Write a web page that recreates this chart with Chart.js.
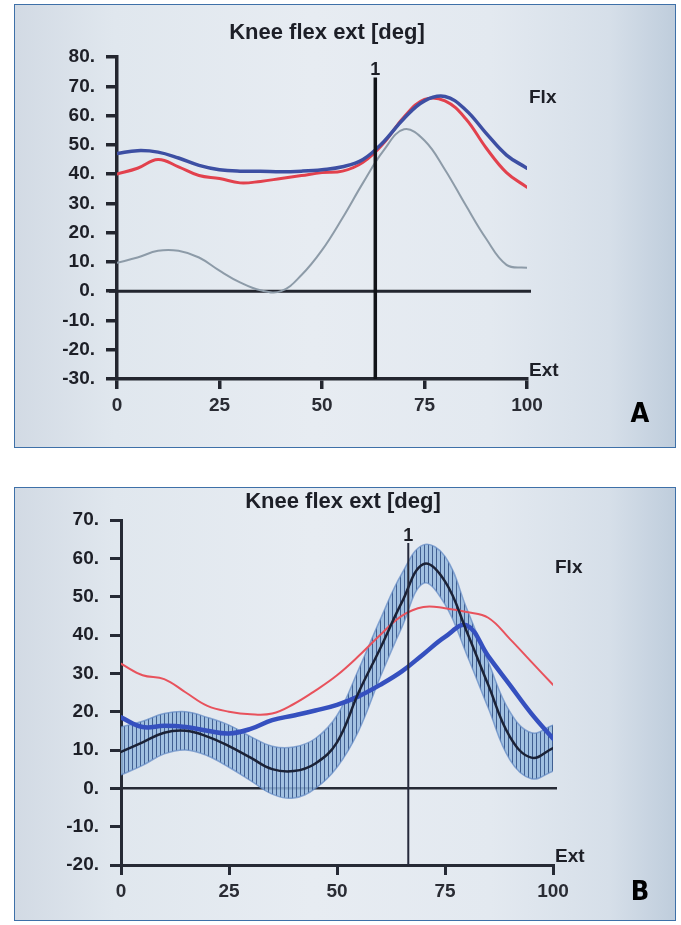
<!DOCTYPE html>
<html><head><meta charset="utf-8">
<script src="https://cdn.jsdelivr.net/npm/chart.js@4.4.1/dist/chart.umd.min.js"></script>
<style>
html,body{margin:0;padding:0;background:#fff;width:681px;height:925px;overflow:hidden;position:relative}
.panel{position:absolute;border:1.5px solid #3e70a8;box-sizing:border-box;
 background:linear-gradient(90deg,#d2dae4 0%,#e0e7ee 15%,#e7ecf2 45%,#e3e9f0 72%,#d6dfe9 90%,#bfcddc 100%)}
#pa{left:14px;top:4px;width:662px;height:444px}
#pb{left:14px;top:487px;width:662px;height:434px}
canvas{position:absolute;left:0}
#ca{top:0}
#cb{top:487px}
</style></head>
<body>
<div class="panel" id="pa"></div>
<div class="panel" id="pb"></div>
<canvas id="ca" width="681" height="447"></canvas>
<canvas id="cb" width="681" height="438"></canvas>
<script>
// ---------- data ----------
const pct = [0,5,10,15,20,25,30,35,40,45,50,55,60,65,70,75,80,85,90,95,100];
const xTicks = [0,25,50,75,100];

// Panel A
const yTicksA = [-30,-20,-10,0,10,20,30,40,50,60,70,80];
const kneeA_blue = [47,48,47.5,45.5,43,41.5,41,41,40.8,41,41.5,42.5,45,51,59,65,66.5,62,54,46.5,42];
const kneeA_red  = [40,42,45,42.5,39.5,38.5,37,37.5,38.5,39.5,40.5,41,44,50.5,59.5,65.5,65,59,49,40.5,35.5];
const kneeA_gray = [9.7,11.5,13.8,13.8,11.5,7,3,0.3,0,5.5,14,25,37,48,55.3,51.5,41.5,29.5,18,9,8];
const markerA = 63;

// Panel B
const yTicksB = [-20,-10,0,10,20,30,40,50,60,70];
const kneeB_red   = [32.5,29.5,28.5,25,21.5,20,19.3,19.5,22,25.5,29.5,34.5,40,45,47.3,47,46,44.5,39,33,27];
const kneeB_blue  = [18.5,16,16.3,16,15,14.3,15.5,17.8,19,20.3,21.8,24,27,30.5,35,39.5,42.5,34.5,27,19.5,13];
const kneeB_mean  = [9.5,12,14.5,15,13.5,11,8,5,4.5,6.5,12,25,36.5,48.5,58.5,54,41,27,13.5,8,10.5];
const kneeB_upper = [16,17.5,19.5,20,18.5,16.5,13.5,11,10.8,13,19,31,44,56,63.5,60.5,47,33,20,14.5,16.5];
const kneeB_lower = [3.5,6,9,10,8.5,5.5,2,-1.5,-2.5,0,5.5,15,29,42,53.5,48,35,21,7.5,2.5,4.5];
const markerB = 66.5;

// ---------- helpers ----------
Chart.defaults.font.family = "'Liberation Sans', Arial, sans-serif";
const pts = (ys) => pct.map((x,i)=>({x, y: ys[i]}));

function makeChart(id, o){
  const axisCol = o.axisCol;
  const overlay = {
    id:'overlay',
    beforeDatasetsDraw(chart){
      const {ctx, scales:{x,y}} = chart;
      ctx.save();
      ctx.strokeStyle = axisCol; ctx.lineWidth = o.zeroW;
      ctx.beginPath();
      ctx.moveTo(x.getPixelForValue(0)-8, y.getPixelForValue(0));
      ctx.lineTo(x.getPixelForValue(100)+4, y.getPixelForValue(0));
      ctx.stroke();
      ctx.restore();
    },
    afterDatasetsDraw(chart){
      const {ctx, scales:{x,y}} = chart;
      const mx = x.getPixelForValue(o.marker);
      ctx.save();
      ctx.strokeStyle = o.markerCol; ctx.lineWidth = o.markerW;
      ctx.beginPath();
      ctx.moveTo(mx, y.getPixelForValue(o.markerTop));
      ctx.lineTo(mx, y.getPixelForValue(y.min));
      ctx.stroke();
      ctx.restore();
    },
    afterDraw(chart){
      const {ctx, scales:{x,y}} = chart;
      ctx.save();
      ctx.fillStyle = '#1d1f27';
      ctx.textBaseline = 'middle';
      ctx.textAlign = 'center';
      ctx.font = "bold 22px 'Liberation Sans', Arial, sans-serif";
      ctx.fillText('Knee flex ext [deg]', o.titleX, o.titleY);
      ctx.font = "bold 18px 'Liberation Sans', Arial, sans-serif";
      ctx.fillText('1', x.getPixelForValue(o.marker), y.getPixelForValue(o.markerTop) - 7);
      ctx.textAlign = 'left';
      ctx.font = "bold 19px 'Liberation Sans', Arial, sans-serif";
      ctx.fillText('Flx', o.flxX, o.flxY);
      ctx.fillText('Ext', o.flxX, y.getPixelForValue(y.min) - 8);
      ctx.fillStyle = '#000';
      ctx.textAlign = 'center';
      ctx.font = "bold 27px 'Liberation Sans Narrow', 'DejaVu Sans Condensed', sans-serif";
      ctx.fillText(o.letter, 640, o.letterY);
      ctx.restore();
    }
  };
  return new Chart(document.getElementById(id), {
    type:'line',
    data:{datasets:o.datasets},
    options:{
      responsive:false, animation:false,
      layout:{padding:{top:o.padTop, right:o.padRight, left:0, bottom:0}},
      plugins:{legend:{display:false}, tooltip:{enabled:false}},
      elements:{point:{radius:0}, line:{tension:0.4, borderCapStyle:'round', borderJoinStyle:'round'}},
      scales:{
        x:{type:'linear', min:0, max:100,
           afterBuildTicks(s){ s.ticks = xTicks.map(v=>({value:v})); },
           afterFit(s){ s.height = o.xH; },
           grid:{display:true, drawOnChartArea:false, drawTicks:true, tickLength:10, color:axisCol, lineWidth:o.axisW},
           border:{display:true, color:axisCol, width:o.axisW},
           ticks:{color:'#2a2c34', padding:5, maxRotation:0, autoSkip:false,
                  font:{size:19, weight:'bold'}, callback:v=>String(v)}},
        y:{type:'linear', min:o.yTicks[0], max:o.yTicks[o.yTicks.length-1],
           afterBuildTicks(s){ s.ticks = o.yTicks.map(v=>({value:v})); },
           afterFit(s){ s.width = o.yW; },
           grid:{display:true, drawOnChartArea:false, drawTicks:true, tickLength:11, color:axisCol, lineWidth:o.axisW},
           border:{display:true, color:axisCol, width:o.axisW},
           ticks:{color:'#1d1f27', padding:11, autoSkip:false,
                  font:{size:19, weight:'bold'}, callback:v=>v+'.'}}
      }
    },
    plugins:[overlay]
  });
}

// ---------- Panel A ----------
makeChart('ca', {
  axisCol:'#23262f', axisW:3.5, zeroW:3, marker:markerA, markerTop:73, markerCol:'#111318', markerW:3.5,
  yTicks:yTicksA, yW:117, xH:68, padTop:57, padRight:154,
  titleX:327, titleY:33, flxX:529, flxY:98, letter:'A', letterY:415,
  datasets:[
    {data:pts(kneeA_blue), borderColor:'#3d4fa3', borderWidth:3.5, order:1},
    {data:pts(kneeA_red),  borderColor:'#e2414d', borderWidth:3, order:2},
    {data:pts(kneeA_gray), borderColor:'#8d9ba8', borderWidth:2, order:3}
  ]
});

// ---------- Panel B ----------
const hc = document.createElement('canvas'); hc.width = 4; hc.height = 4;
const hg = hc.getContext('2d');
hg.fillStyle = 'rgba(150,186,222,0.85)'; hg.fillRect(0,0,4,4);
hg.fillStyle = 'rgba(40,70,125,0.8)'; hg.fillRect(0,0,1,4);
const hatch = document.getElementById('cb').getContext('2d').createPattern(hc,'repeat');

makeChart('cb', {
  axisCol:'#262a35', axisW:3, zeroW:2.5, marker:markerB, markerTop:64, markerCol:'#262a3c', markerW:2,
  yTicks:yTicksB, yW:121, xH:60, padTop:33, padRight:128,
  titleX:343, titleY:15, flxX:555, flxY:81, letter:'B', letterY:406,
  datasets:[
    {data:pts(kneeB_mean), borderColor:'#1b2236', borderWidth:2.5, order:1},
    {data:pts(kneeB_blue), borderColor:'#3550bf', borderWidth:4.5, order:2},
    {data:pts(kneeB_red),  borderColor:'#e8525c', borderWidth:2, order:3},
    {data:pts(kneeB_upper), borderColor:'rgba(95,135,195,0.7)', borderWidth:1.5, order:4},
    {data:pts(kneeB_lower), borderColor:'rgba(95,135,195,0.7)', borderWidth:1.5, order:5,
     fill:'-1', backgroundColor:hatch}
  ]
});
</script>
</body></html>
